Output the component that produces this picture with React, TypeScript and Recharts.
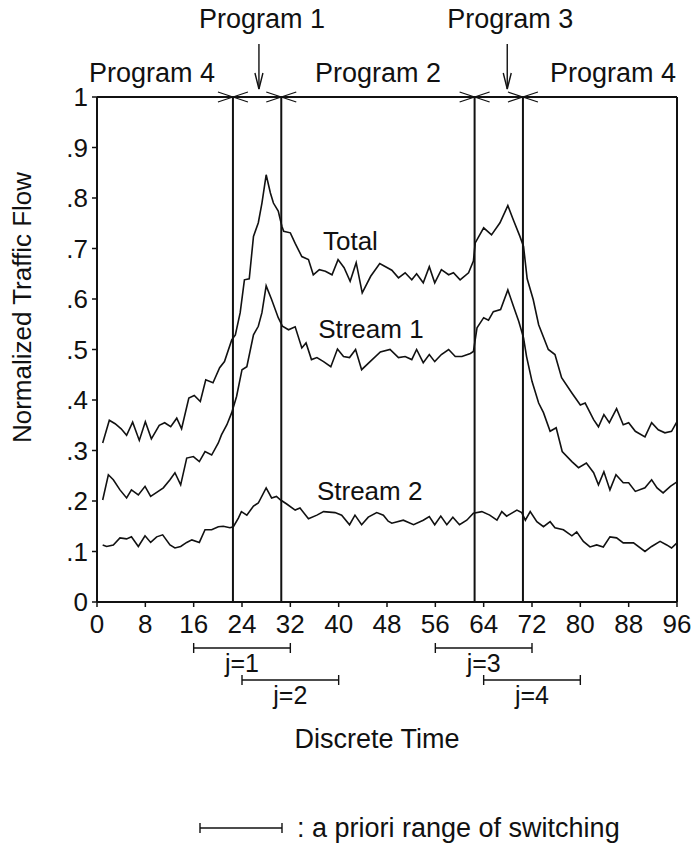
import React from 'react';
import { LineChart, Line, XAxis, YAxis, ReferenceLine, ReferenceDot, Legend } from 'recharts';

const FONT = '"Liberation Sans", Arial, Helvetica, sans-serif';
const INK = '#111';

// ---- data ----
const totalTime = [0.94, 2.04, 3, 4, 4.9, 5.9, 7, 8, 9, 10.3, 11.2, 12.2, 13.2, 14, 15.2, 16.1, 17.1, 18, 19.2, 20.3, 21.1, 22.3, 22.9, 23.7, 24.4, 25.2, 25.9, 26.7, 27.3, 28, 28.7, 29.2, 30, 30.6, 30.9, 32, 32.8, 33.9, 35, 35.8, 36.8, 37.8, 38.9, 39.9, 40.9, 41.9, 42.9, 43.9, 45.3, 46.8, 48.8, 49.9, 51, 52.1, 52.9, 54, 55, 55.9, 57, 58.2, 59, 60.1, 61.5, 62.3, 62.6, 64, 65.3, 66.7, 68, 68.9, 70, 70.6, 71.2, 72.2, 73.1, 74.7, 75.8, 76.9, 78.6, 80, 80.8, 82.2, 83, 83.9, 84.8, 86, 87.1, 88, 89.1, 90.7, 91.8, 92.9, 94, 95.1, 96];
const totalFlow = [0.315, 0.36, 0.353, 0.343, 0.33, 0.356, 0.32, 0.357, 0.323, 0.35, 0.355, 0.347, 0.364, 0.343, 0.404, 0.409, 0.397, 0.44, 0.434, 0.464, 0.476, 0.519, 0.529, 0.573, 0.638, 0.64, 0.724, 0.751, 0.79, 0.846, 0.81, 0.79, 0.774, 0.744, 0.734, 0.731, 0.71, 0.684, 0.678, 0.648, 0.658, 0.655, 0.648, 0.678, 0.662, 0.635, 0.672, 0.612, 0.645, 0.67, 0.657, 0.642, 0.652, 0.638, 0.65, 0.632, 0.664, 0.632, 0.658, 0.648, 0.652, 0.638, 0.652, 0.675, 0.711, 0.741, 0.727, 0.751, 0.785, 0.757, 0.724, 0.704, 0.64, 0.599, 0.549, 0.5, 0.49, 0.444, 0.414, 0.39, 0.394, 0.361, 0.347, 0.371, 0.355, 0.383, 0.351, 0.355, 0.338, 0.327, 0.355, 0.341, 0.335, 0.338, 0.357];

const stream1Time = [0.94, 1.88, 2.7, 3.8, 4.9, 5.7, 6.84, 7.95, 8.88, 9.88, 10.98, 12.08, 12.9, 13.85, 14.85, 15.95, 16.94, 17.88, 18.98, 20.08, 20.6, 21.5, 22.3, 23.1, 24, 24.8, 25.9, 26.7, 27.3, 28, 28.9, 30, 30.7, 31.7, 32.8, 33.9, 34.6, 35.5, 36.4, 37.5, 38.7, 39.8, 40.8, 41.8, 42.8, 43.8, 45.2, 46.9, 48.5, 49.9, 51, 52.1, 52.9, 54, 55, 55.9, 57, 58.2, 59.3, 60.4, 61.8, 62.3, 62.9, 64, 64.8, 65.6, 66.8, 68, 69, 69.8, 70.6, 71.1, 72, 73.1, 73.9, 75, 76, 77, 78.6, 79.7, 81, 82.2, 83, 83.9, 84.9, 85.9, 87.1, 88, 89.1, 90.7, 91.8, 92.7, 93.7, 94.9, 96];
const stream1Flow = [0.202, 0.252, 0.242, 0.222, 0.206, 0.222, 0.212, 0.229, 0.209, 0.217, 0.226, 0.242, 0.256, 0.232, 0.285, 0.288, 0.278, 0.298, 0.291, 0.315, 0.331, 0.351, 0.375, 0.407, 0.46, 0.466, 0.529, 0.546, 0.573, 0.626, 0.599, 0.563, 0.546, 0.539, 0.545, 0.503, 0.513, 0.48, 0.484, 0.476, 0.466, 0.501, 0.486, 0.484, 0.5, 0.46, 0.476, 0.495, 0.5, 0.484, 0.486, 0.48, 0.5, 0.474, 0.49, 0.476, 0.49, 0.5, 0.486, 0.486, 0.492, 0.496, 0.543, 0.563, 0.558, 0.575, 0.579, 0.618, 0.583, 0.556, 0.523, 0.486, 0.437, 0.394, 0.375, 0.338, 0.345, 0.298, 0.278, 0.266, 0.275, 0.256, 0.232, 0.258, 0.222, 0.252, 0.236, 0.236, 0.219, 0.226, 0.242, 0.226, 0.216, 0.229, 0.238];

const stream2Time = [0.94, 1.6, 2.7, 3.8, 4.9, 5.7, 6.84, 7.95, 8.88, 9.88, 10.87, 12.08, 12.9, 13.85, 14.85, 15.7, 16.94, 17.88, 18.98, 20.08, 20.9, 22, 22.57, 23.4, 23.9, 24.8, 25.9, 26.7, 28, 28.9, 29.7, 30.4, 31.4, 32.8, 33.6, 35, 36.4, 37.5, 39.4, 40.5, 41.8, 42.7, 43.8, 44.9, 46.3, 47.4, 48.2, 48.8, 50.7, 52.4, 54, 55, 55.9, 56.9, 57.9, 58.9, 60, 61.2, 62.3, 63.7, 65, 66.2, 67, 67.8, 69.5, 70.3, 70.9, 71.7, 72.8, 73.9, 75, 75.8, 77.2, 78.6, 79.4, 80.5, 81.6, 82.7, 83.8, 84.9, 86, 87.1, 88.8, 90.7, 91.8, 93.2, 94.3, 95.1, 96];
const stream2Flow = [0.113, 0.11, 0.113, 0.127, 0.125, 0.129, 0.11, 0.131, 0.118, 0.129, 0.133, 0.113, 0.107, 0.11, 0.118, 0.123, 0.118, 0.143, 0.143, 0.149, 0.15, 0.147, 0.149, 0.166, 0.179, 0.172, 0.19, 0.196, 0.226, 0.206, 0.209, 0.202, 0.194, 0.182, 0.186, 0.165, 0.172, 0.179, 0.177, 0.172, 0.153, 0.172, 0.153, 0.168, 0.177, 0.172, 0.16, 0.156, 0.162, 0.153, 0.162, 0.169, 0.153, 0.17, 0.153, 0.168, 0.153, 0.162, 0.176, 0.179, 0.172, 0.162, 0.179, 0.17, 0.182, 0.177, 0.162, 0.179, 0.159, 0.149, 0.159, 0.147, 0.143, 0.131, 0.139, 0.12, 0.109, 0.113, 0.109, 0.129, 0.127, 0.117, 0.117, 0.1, 0.11, 0.12, 0.113, 0.107, 0.117];

const xTicks = [0, 8, 16, 24, 32, 40, 48, 56, 64, 72, 80, 88, 96];
const yTicks = [0, 0.1, 0.2, 0.3, 0.4, 0.5, 0.6, 0.7, 0.8, 0.9, 1];

const switchTimes = [22.5, 30.5, 62.5, 70.5];

const programNames = ['Program 4', 'Program 1', 'Program 2', 'Program 3', 'Program 4'];
const programCenters = [9.1, 27.3, 46.5, 68.4, 85.4];
const programRaised = [false, true, false, true, false];

const rangeStarts = [16, 24, 56, 64];
const rangeEnds = [32, 40, 72, 80];
const rangeLabels = ['j=1', 'j=2', 'j=3', 'j=4'];
const rangeRows = [0, 1, 0, 1];

const seriesLabels = ['Total', 'Stream 1', 'Stream 2'];
const seriesLabelTime = [37.4, 36.6, 36.4];
const seriesLabelFlow = [0.698, 0.523, 0.202];

// ---- layout ----
const W = 694;
const H = 856;
const LEGEND_H = 44;
const MARGIN = { top: 97, right: 17, bottom: 214 - LEGEND_H, left: 0 };
const Y_AXIS_W = 97;
const X_AXIS_H = 40;
const PLOT_H = 505;
const ROW_DEPTH = [46, 78];

const zip = (ts: number[], vs: number[]) => ts.map((t, i) => ({ t, v: vs[i] }));
const totalData = zip(totalTime, totalFlow);
const stream1Data = zip(stream1Time, stream1Flow);
const stream2Data = zip(stream2Time, stream2Flow);

const yFmt = (v: number) => (v === 0 ? '0' : v === 1 ? '1' : '.' + Math.round(v * 10));

const textStyle = { fontFamily: FONT, fill: INK } as const;

const crossShape = (p: any) => (
  <g stroke={INK} strokeWidth={1.3}>
    <line x1={p.cx - 15} y1={p.cy - 5} x2={p.cx + 15} y2={p.cy + 5} />
    <line x1={p.cx - 15} y1={p.cy + 5} x2={p.cx + 15} y2={p.cy - 5} />
  </g>
);

const programShape = (name: string, raised: boolean) => (p: any) => {
  if (!raised) {
    return (
      <text x={p.cx} y={p.cy - 15} textAnchor="middle" fontSize={27} {...textStyle}>
        {name}
      </text>
    );
  }
  const ax = p.cx - 3;
  const tip = p.cy - 8;
  return (
    <g>
      <text x={p.cx} y={p.cy - 69} textAnchor="middle" fontSize={27} {...textStyle}>
        {name}
      </text>
      <g stroke={INK} strokeWidth={1.4} fill="none">
        <line x1={ax} y1={p.cy - 53} x2={ax} y2={tip} />
        <polyline points={`${ax - 4},${tip - 16} ${ax},${tip} ${ax + 4},${tip - 16}`} />
      </g>
    </g>
  );
};

const rangeShape = (label: string) => (p: any) => {
  const y = p.y1;
  return (
    <g>
      <g stroke={INK} strokeWidth={1.4}>
        <line x1={p.x1} y1={y} x2={p.x2} y2={y} />
        <line x1={p.x1} y1={y - 5} x2={p.x1} y2={y + 5} />
        <line x1={p.x2} y1={y - 5} x2={p.x2} y2={y + 5} />
      </g>
      <text x={(p.x1 + p.x2) / 2} y={y + 24} textAnchor="middle" fontSize={25} {...textStyle}>
        {label}
      </text>
    </g>
  );
};

const seriesLabelShape = (label: string) => (p: any) => (
  <text x={p.cx} y={p.cy} textAnchor="start" fontSize={26} {...textStyle}>
    {label}
  </text>
);

const legendContent = () => (
  <svg width={470} height={LEGEND_H} style={{ overflow: 'visible', display: 'block' }}>
    <g stroke={INK} strokeWidth={1.4}>
      <line x1={5} y1={20} x2={87} y2={20} />
      <line x1={5} y1={15} x2={5} y2={25} />
      <line x1={87} y1={15} x2={87} y2={25} />
    </g>
    <text x={102} y={29} fontSize={27} {...textStyle}>
      : a priori range of switching
    </text>
  </svg>
);

export default function App() {
  return (
    <div style={{ position: 'absolute', left: 0, top: 0, background: '#fff' }}>
      <LineChart width={W} height={H} margin={MARGIN}>
        <XAxis
          dataKey="t"
          type="number"
          domain={[0, 96]}
          ticks={xTicks}
          interval={0}
          height={X_AXIS_H}
          axisLine={{ stroke: INK, strokeWidth: 2 }}
          tickLine={{ stroke: INK, strokeWidth: 1.5 }}
          tickSize={5}
          tickMargin={8}
          tick={{ fill: INK, fontSize: 26, fontFamily: FONT }}
          allowDataOverflow
          label={(props: any) => {
            const vb = props.viewBox;
            return (
              <text x={vb.x + vb.width / 2 - 10} y={vb.y + 146} textAnchor="middle" fontSize={27} {...textStyle}>
                Discrete Time
              </text>
            );
          }}
        />
        <YAxis
          type="number"
          domain={[0, 1]}
          ticks={yTicks}
          interval={0}
          width={Y_AXIS_W}
          tickFormatter={yFmt}
          axisLine={{ stroke: INK, strokeWidth: 2 }}
          tickLine={{ stroke: INK, strokeWidth: 1.5 }}
          tickSize={5}
          tickMargin={4}
          tick={{ fill: INK, fontSize: 26, fontFamily: FONT }}
          label={(props: any) => {
            const vb = props.viewBox;
            const cx = vb.x + 22;
            const cy = vb.y + vb.height / 2 - 42;
            return (
              <text
                transform={`translate(${cx},${cy}) rotate(-90)`}
                x={0}
                y={0}
                dy="0.35em"
                textAnchor="middle"
                fontSize={26}
                {...textStyle}
              >
                Normalized Traffic Flow
              </text>
            );
          }}
        />
        <ReferenceLine y={1} stroke={INK} strokeWidth={2} ifOverflow="visible" />
        <ReferenceLine x={96} stroke={INK} strokeWidth={2} ifOverflow="visible" />
        {switchTimes.map((t) => (
          <ReferenceLine key={'s' + t} x={t} stroke={INK} strokeWidth={2} ifOverflow="visible" />
        ))}
        {switchTimes.map((t) => (
          <ReferenceDot key={'c' + t} x={t} y={1} r={0} ifOverflow="visible" shape={crossShape} />
        ))}
        {programNames.map((n, i) => (
          <ReferenceDot
            key={'p' + i}
            x={programCenters[i]}
            y={1}
            r={0}
            ifOverflow="visible"
            shape={programShape(n, programRaised[i])}
          />
        ))}
        {rangeStarts.map((s, i) => {
          const yv = -ROW_DEPTH[rangeRows[i]] / PLOT_H;
          return (
            <ReferenceLine
              key={'r' + i}
              segment={[{ x: s, y: yv }, { x: rangeEnds[i], y: yv }]}
              ifOverflow="visible"
              shape={rangeShape(rangeLabels[i])}
            />
          );
        })}
        {seriesLabels.map((l, i) => (
          <ReferenceDot
            key={'l' + i}
            x={seriesLabelTime[i]}
            y={seriesLabelFlow[i]}
            r={0}
            ifOverflow="visible"
            shape={seriesLabelShape(l)}
          />
        ))}
        <Line data={totalData} dataKey="v" type="linear" stroke={INK} strokeWidth={1.6} dot={false} isAnimationActive={false} name="Total" />
        <Line data={stream1Data} dataKey="v" type="linear" stroke={INK} strokeWidth={1.6} dot={false} isAnimationActive={false} name="Stream 1" />
        <Line data={stream2Data} dataKey="v" type="linear" stroke={INK} strokeWidth={1.6} dot={false} isAnimationActive={false} name="Stream 2" />
        <Legend
          content={legendContent}
          wrapperStyle={{ position: 'absolute', left: 195, top: 808, width: 470, height: LEGEND_H, bottom: 'auto' }}
        />
      </LineChart>
    </div>
  );
}
